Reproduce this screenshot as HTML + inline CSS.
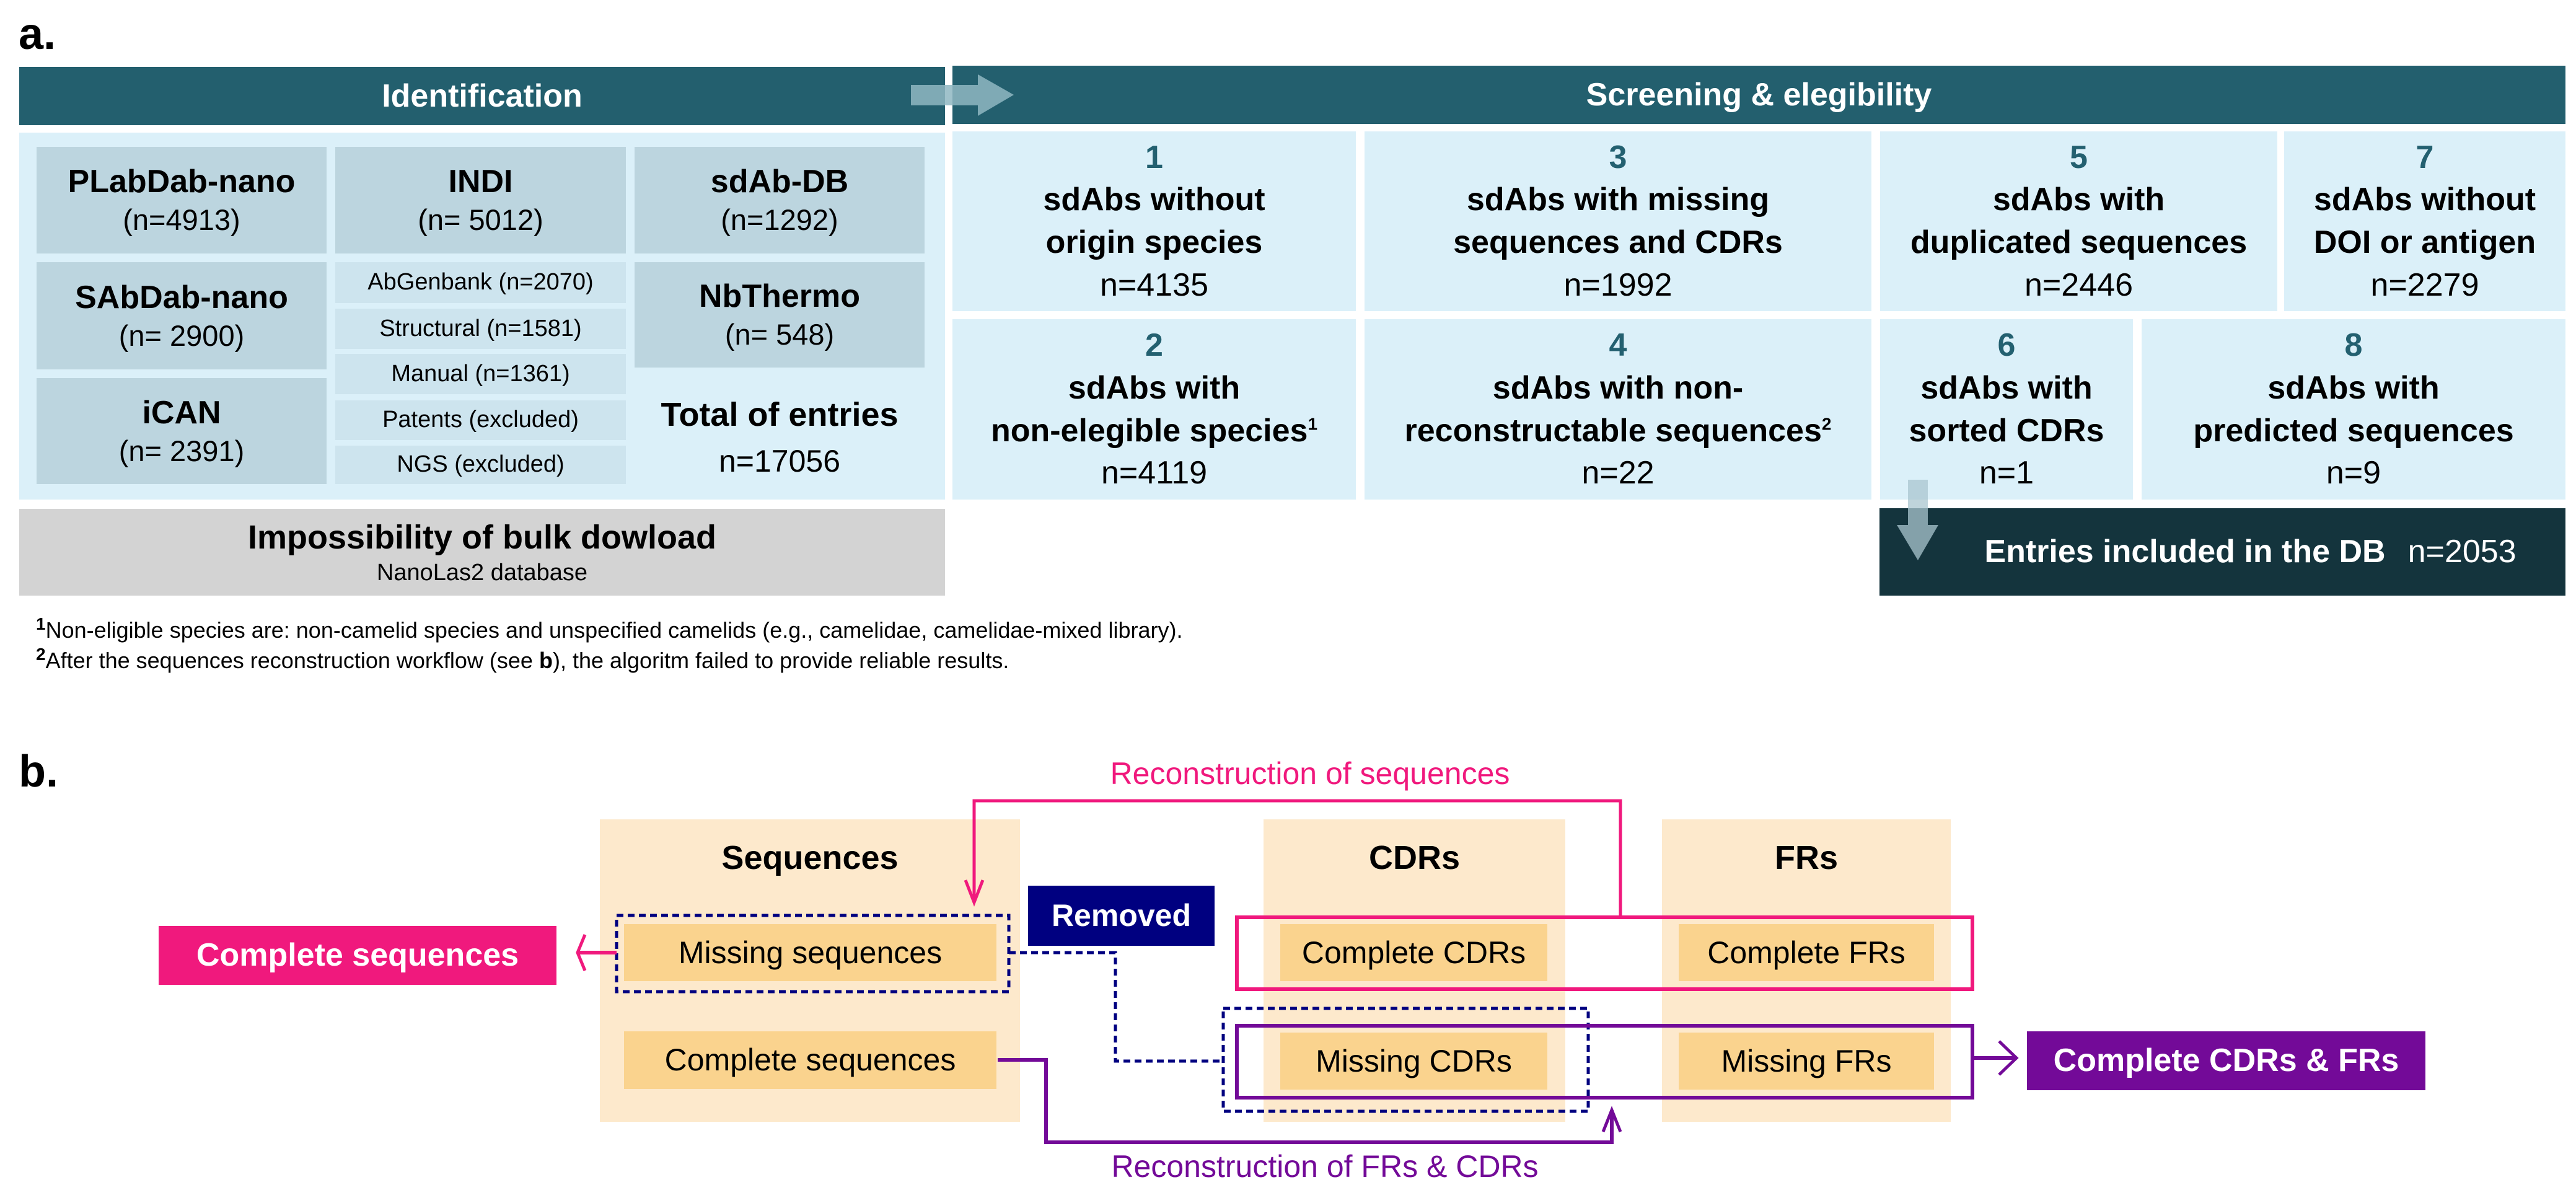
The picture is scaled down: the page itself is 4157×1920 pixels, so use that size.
<!DOCTYPE html>
<html><head><meta charset="utf-8"><style>
*{margin:0;padding:0;box-sizing:border-box}
body{width:4157px;height:1920px;background:#fff;position:relative;overflow:hidden;font-family:"Liberation Sans",sans-serif;color:#000}
.b{position:absolute;display:flex;flex-direction:column;align-items:center;justify-content:center;text-align:center;line-height:1.25}
.hd{background:#235f6e;color:#fff;font-weight:bold;font-size:52px}
.lb{background:#dbf0f9}
.gb{background:#bcd5df;font-size:47px}
.gb b{font-size:52px}
.sb{background:#cde4ee;font-size:38px}
.sc{font-size:52px;line-height:1.32;font-weight:bold}
.sc .n{color:#236070}
.sc .c{font-weight:normal}
.col{background:#fde9cc}
.ib{background:#fad38e;font-size:50px}
.ch{font-weight:bold;font-size:54px}
sup{font-size:28px;vertical-align:super;line-height:0}
</style></head><body>
<div class="b" style="left:30px;top:10px;font-size:72px;font-weight:bold;">a.</div>
<div class="b hd" style="left:31px;top:108px;width:1494px;height:94px">Identification</div>
<div class="b hd" style="left:1537px;top:106px;width:2603px;height:94px">Screening &amp; elegibility</div>
<svg style="position:absolute;left:0;top:0" width="4157" height="1920">
<polygon points="1470,137 1578,137 1578,120 1636,153 1578,187 1578,170 1470,170" fill="#8fb7c2" fill-opacity="0.85"/>
</svg>
<div class="b lb" style="left:31px;top:214px;width:1494px;height:592px"></div>
<div class="b gb" style="left:59px;top:237px;width:468px;height:172px"><b>PLabDab-nano</b>(n=4913)</div>
<div class="b gb" style="left:541px;top:237px;width:469px;height:172px"><b>INDI</b>(n= 5012)</div>
<div class="b gb" style="left:1024px;top:237px;width:468px;height:172px"><b>sdAb-DB</b>(n=1292)</div>
<div class="b gb" style="left:59px;top:423px;width:468px;height:173px"><b>SAbDab-nano</b>(n= 2900)</div>
<div class="b gb" style="left:59px;top:610px;width:468px;height:171px"><b>iCAN</b>(n= 2391)</div>
<div class="b gb" style="left:1024px;top:423px;width:468px;height:170px"><b>NbThermo</b>(n= 548)</div>
<div class="b sb" style="left:541px;top:423px;width:469px;height:66px">AbGenbank (n=2070)</div>
<div class="b sb" style="left:541px;top:498px;width:469px;height:65px">Structural (n=1581)</div>
<div class="b sb" style="left:541px;top:571px;width:469px;height:65px">Manual (n=1361)</div>
<div class="b sb" style="left:541px;top:646px;width:469px;height:64px">Patents (excluded)</div>
<div class="b sb" style="left:541px;top:719px;width:469px;height:62px">NGS (excluded)</div>
<div class="b" style="left:1024px;top:630px;width:468px;height:150px;font-size:50px;line-height:1.45"><b style="font-size:54px">Total of entries</b>n=17056</div>
<div class="b" style="left:31px;top:821px;width:1494px;height:140px;background:#d3d3d3;font-size:38px"><b style="font-size:54px">Impossibility of bulk dowload</b>NanoLas2 database</div>
<div style="position:absolute;left:58px;top:992px;font-size:36px;line-height:49px">
<div><sup style="font-weight:bold">1</sup>Non-eligible species are: non-camelid species and unspecified camelids (e.g., camelidae, camelidae-mixed library).</div>
<div><sup style="font-weight:bold">2</sup>After the sequences reconstruction workflow (see <b>b</b>), the algoritm failed to provide reliable results.</div>
</div>

<div class="b lb sc" style="left:1537px;top:212px;width:651px;height:290px"><span class="n">1</span>sdAbs without<br>origin species<span class="c">n=4135</span></div>
<div class="b lb sc" style="left:2202px;top:212px;width:818px;height:290px"><span class="n">3</span>sdAbs with missing<br>sequences and CDRs<span class="c">n=1992</span></div>
<div class="b lb sc" style="left:3034px;top:212px;width:641px;height:290px"><span class="n">5</span>sdAbs with<br>duplicated sequences<span class="c">n=2446</span></div>
<div class="b lb sc" style="left:3686px;top:212px;width:454px;height:290px"><span class="n">7</span>sdAbs without<br>DOI or antigen<span class="c">n=2279</span></div>
<div class="b lb sc" style="left:1537px;top:515px;width:651px;height:291px"><span class="n">2</span><span>sdAbs with<br>non-elegible species<sup>1</sup></span><span class="c">n=4119</span></div>
<div class="b lb sc" style="left:2202px;top:515px;width:818px;height:291px"><span class="n">4</span><span>sdAbs with non-<br>reconstructable sequences<sup>2</sup></span><span class="c">n=22</span></div>
<div class="b lb sc" style="left:3034px;top:515px;width:408px;height:291px"><span class="n">6</span>sdAbs with<br>sorted CDRs<span class="c">n=1</span></div>
<div class="b lb sc" style="left:3456px;top:515px;width:684px;height:291px"><span class="n">8</span>sdAbs with<br>predicted sequences<span class="c">n=9</span></div>
<div class="b" style="left:3033px;top:820px;width:1107px;height:141px;background:#14343d;color:#fff;font-size:52px;flex-direction:row;padding-left:90px"><b>Entries included in the DB</b><span style="margin-left:36px">n=2053</span></div>
<svg style="position:absolute;left:0;top:0" width="4157" height="1920">
<polygon points="3079,774 3111,774 3111,847 3128,847 3095,904 3061,847 3079,847" fill="#a9c6cf" fill-opacity="0.75"/>
</svg>

<div class="b" style="left:30px;top:1200px;font-size:72px;font-weight:bold;">b.</div>
<div class="b col" style="left:968px;top:1322px;width:678px;height:488px"></div>
<div class="b col" style="left:2039px;top:1322px;width:487px;height:488px"></div>
<div class="b col" style="left:2682px;top:1322px;width:466px;height:488px"></div>
<div class="b ch" style="left:968px;top:1350px;width:678px;height:70px">Sequences</div>
<div class="b ch" style="left:2039px;top:1350px;width:487px;height:70px">CDRs</div>
<div class="b ch" style="left:2682px;top:1350px;width:466px;height:70px">FRs</div>
<div class="b ib" style="left:1007px;top:1491px;width:601px;height:92px">Missing sequences</div>
<div class="b ib" style="left:1007px;top:1664px;width:601px;height:93px">Complete sequences</div>
<div class="b ib" style="left:2066px;top:1491px;width:431px;height:92px">Complete CDRs</div>
<div class="b ib" style="left:2709px;top:1491px;width:412px;height:92px">Complete FRs</div>
<div class="b ib" style="left:2066px;top:1666px;width:431px;height:92px">Missing CDRs</div>
<div class="b ib" style="left:2709px;top:1666px;width:412px;height:92px">Missing FRs</div>
<div class="b" style="left:1659px;top:1429px;width:301px;height:97px;background:#000080;color:#fff;font-weight:bold;font-size:50px">Removed</div>
<div class="b" style="left:256px;top:1494px;width:642px;height:95px;background:#f0197d;color:#fff;font-weight:bold;font-size:52px">Complete sequences</div>
<div class="b" style="left:3271px;top:1664px;width:643px;height:95px;background:#730a98;color:#fff;font-weight:bold;font-size:52px">Complete CDRs &amp; FRs</div>
<div class="b" style="left:1614px;top:1216px;width:1000px;height:64px;color:#f0197d;font-size:50px">Reconstruction of sequences</div>
<div class="b" style="left:1638px;top:1850px;width:1000px;height:64px;color:#730a98;font-size:50px">Reconstruction of FRs &amp; CDRs</div>
<svg style="position:absolute;left:0;top:0" width="4157" height="1920" fill="none">
<rect x="995" y="1477" width="633" height="123" stroke="#000080" stroke-width="5" stroke-dasharray="11,7"/>
<rect x="1974" y="1627" width="589" height="166" stroke="#000080" stroke-width="5" stroke-dasharray="11,7"/>
<polyline points="1628,1537 1800,1537 1800,1712 1974,1712" stroke="#000080" stroke-width="5" stroke-dasharray="11,7"/>
<rect x="1996" y="1480" width="1187" height="116" stroke="#f0197d" stroke-width="6"/>
<rect x="1996" y="1655" width="1187" height="116" stroke="#730a98" stroke-width="6"/>
<polyline points="2615,1478 2615,1292 1572,1292 1572,1455" stroke="#f0197d" stroke-width="5"/>
<polyline points="1558,1420 1572,1456 1586,1420" stroke="#f0197d" stroke-width="5"/>
<line x1="995" y1="1537" x2="932" y2="1537" stroke="#f0197d" stroke-width="6"/>
<polyline points="944,1508 932,1537 944,1566" stroke="#f0197d" stroke-width="5"/>
<polyline points="1610,1710 1688,1710 1688,1843 2601,1843 2601,1791" stroke="#730a98" stroke-width="6"/>
<polyline points="2587,1826 2601,1791 2615,1826" stroke="#730a98" stroke-width="5"/>
<line x1="3185" y1="1707" x2="3252" y2="1707" stroke="#730a98" stroke-width="6"/>
<polyline points="3226,1680 3254,1707 3226,1734" stroke="#730a98" stroke-width="5"/>
</svg>
</body></html>
